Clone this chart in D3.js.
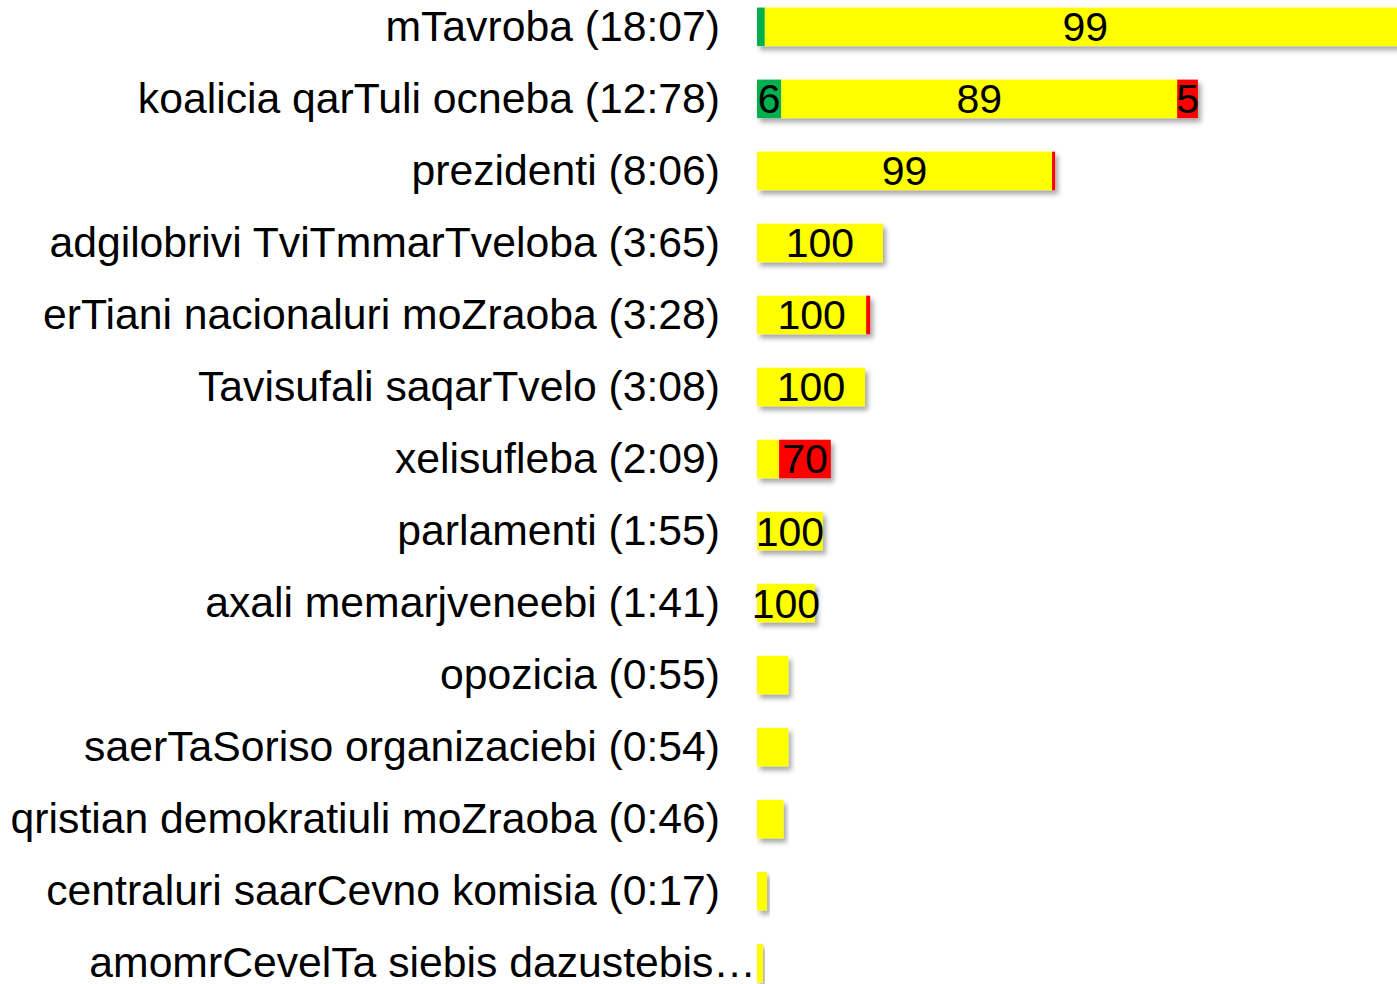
<!DOCTYPE html>
<html>
<head>
<meta charset="utf-8">
<script src="https://cdn.jsdelivr.net/npm/d3@7"></script>
<style>
  body { margin: 0; background: #fff; }
  svg { display: block; }
  text { font-family: "Liberation Sans", Arial, sans-serif; fill: #000; }
</style>
</head>
<body>
<svg id="chart" width="1397" height="984"></svg>
<script>
// etiketebi (kategoriebi)
const categories = [
  "mTavroba (18:07)",
  "koalicia qarTuli ocneba (12:78)",
  "prezidenti (8:06)",
  "adgilobrivi TviTmmarTveloba (3:65)",
  "erTiani nacionaluri moZraoba (3:28)",
  "Tavisufali saqarTvelo (3:08)",
  "xelisufleba (2:09)",
  "parlamenti (1:55)",
  "axali memarjveneebi (1:41)",
  "opozicia (0:55)",
  "saerTaSoriso organizaciebi (0:54)",
  "qristian demokratiuli moZraoba (0:46)",
  "centraluri saarCevno komisia (0:17)",
  "amomrCevelTa siebis dazustebis…"
];

// zolis sigrdze (dro)
const totals = [18.8, 12.78, 8.64, 3.65, 3.28, 3.13, 2.14, 1.91, 1.68, 0.91, 0.91, 0.77, 0.29, 0.17];

// wilebi procentebSi: mwvane / yviTeli / wiTeli
const greenPct  = [1.2, 5.5, 0, 0, 0,   0,   0,  0,   0,   0,   0,   0,   0,   0];
const yellowPct = [98.8, 89.8, 99, 100, 96.5, 100, 30, 100, 100, 100, 100, 100, 100, 100];
const redPct    = [0, 4.7, 1, 0, 3.5, 0, 70, 0, 0, 0, 0, 0, 0, 0];

// warwerebi zolebze
const greenLabels  = [null, "6", null, null, null, null, null, null, null, null, null, null, null, null];
const yellowLabels = ["99", "89", "99", "100", "100", "100", null, "100", "100", null, null, null, null, null];
const redLabels    = [null, "5", null, null, null, null, "70", null, null, null, null, null, null, null];

const colors = { green: "#00B050", yellow: "#FFFF00", red: "#FF0000" };

const svg = d3.select("#chart");

const defs = svg.append("defs");
const f = defs.append("filter").attr("id", "shadow")
    .attr("x", "-10%").attr("y", "-30%").attr("width", "130%").attr("height", "180%");
f.append("feDropShadow")
    .attr("dx", 3).attr("dy", 4).attr("stdDeviation", 2.5)
    .attr("flood-color", "#000").attr("flood-opacity", 0.35);

const x0 = 757;
const x = d3.scaleLinear().domain([0, 20]).range([x0, x0 + 690]);

const y = d3.scaleBand()
    .domain(categories)
    .range([-9, 999])
    .paddingInner(0.465)
    .paddingOuter(0.23);

const rows = categories.map((c, i) => {
  const segs = [];
  let acc = 0;
  [["green", greenPct[i], greenLabels[i]],
   ["yellow", yellowPct[i], yellowLabels[i]],
   ["red", redPct[i], redLabels[i]]].forEach(([k, p, lab]) => {
    const v = totals[i] * p / 100;
    if (v > 0) segs.push({ key: k, start: acc, end: acc + v, label: lab });
    acc += v;
  });
  return { cat: c, segs: segs };
});

// zolebi
const bars = svg.append("g").selectAll("g.row")
  .data(rows)
  .enter().append("g")
    .attr("class", "row")
    .attr("filter", "url(#shadow)");

bars.selectAll("rect")
  .data(d => d.segs.map(s => Object.assign({ cat: d.cat }, s)))
  .enter().append("rect")
    .attr("x", d => x(d.start))
    .attr("y", d => y(d.cat))
    .attr("width", d => x(d.end) - x(d.start))
    .attr("height", y.bandwidth())
    .attr("fill", d => colors[d.key]);

// ricxvebi zolebze
const labelData = [];
rows.forEach(r => r.segs.forEach(s => { if (s.label) labelData.push(Object.assign({ cat: r.cat }, s)); }));

svg.append("g").selectAll("text")
  .data(labelData)
  .enter().append("text")
    .attr("x", d => {
      // pirveli zoli gadadis kideze - centri xiluli nawilia
      const xe = Math.min(x(d.end), 1412);
      return (x(d.start) + xe) / 2;
    })
    .attr("y", d => y(d.cat) + y.bandwidth() / 2 + 14.5)
    .attr("text-anchor", "middle")
    .style("font-size", "41px")
    .text(d => d.label);

// kategoriebis warwerebi
svg.append("g").selectAll("text")
  .data(categories)
  .enter().append("text")
    .attr("x", d => d.endsWith("…") ? 756 : 720)
    .attr("y", d => y(d) + y.bandwidth() / 2 + 14)
    .attr("text-anchor", "end")
    .style("font-size", "42.7px")
    .text(d => d);
</script>
</body>
</html>
